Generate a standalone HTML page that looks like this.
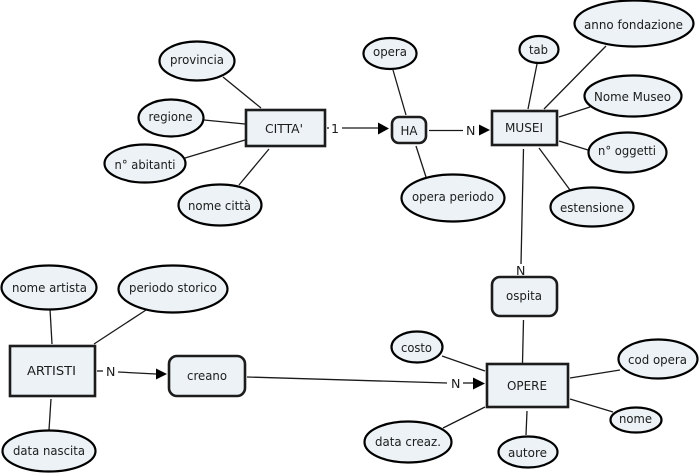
<!DOCTYPE html>
<html><head><meta charset="utf-8"><style>
html,body{margin:0;padding:0;background:#fff;width:700px;height:474px;overflow:hidden}
svg{display:block}
text{font-family:"DejaVu Sans","Liberation Sans",sans-serif;font-size:12.6px;fill:#1c1c1c}
.l line{stroke:#1a1a1a;stroke-width:1.3}
.e ellipse{fill:#ecf2f5;stroke:#000;stroke-width:2.2}
.r rect{fill:#ecf2f5;stroke:#1c1c1c;stroke-width:2.6}
.a polygon{fill:#000}
</style></head><body>
<svg width="700" height="474" viewBox="0 0 700 474" xmlns="http://www.w3.org/2000/svg">
<g class="l">
<line x1="223" y1="77" x2="261" y2="108"/>
<line x1="204" y1="120" x2="245" y2="124"/>
<line x1="185" y1="158" x2="245" y2="140"/>
<line x1="239" y1="185" x2="269" y2="149"/>
<line x1="327" y1="128" x2="329" y2="128"/>
<line x1="342" y1="128" x2="378" y2="128"/>
<line x1="393" y1="70" x2="406" y2="115"/>
<line x1="416" y1="146" x2="426" y2="177"/>
<line x1="429" y1="130.5" x2="463" y2="130.5"/>
<line x1="537" y1="64" x2="528" y2="109"/>
<line x1="606" y1="46" x2="544" y2="109"/>
<line x1="590" y1="107" x2="559" y2="117"/>
<line x1="588" y1="150" x2="559" y2="141"/>
<line x1="570" y1="190" x2="539" y2="148"/>
<line x1="523.5" y1="149" x2="521" y2="264"/>
<line x1="523.5" y1="320" x2="522.5" y2="363"/>
<line x1="442" y1="356" x2="485" y2="371"/>
<line x1="570" y1="378" x2="620" y2="370"/>
<line x1="570" y1="399" x2="613" y2="412"/>
<line x1="527" y1="411" x2="526" y2="435"/>
<line x1="485" y1="407" x2="443" y2="428"/>
<line x1="247" y1="377" x2="447" y2="383"/>
<line x1="463" y1="383" x2="473" y2="383"/>
<line x1="50" y1="309" x2="52" y2="344"/>
<line x1="146" y1="310" x2="94" y2="344"/>
<line x1="51" y1="399" x2="49" y2="430"/>
<line x1="97" y1="371" x2="103" y2="371"/>
<line x1="118" y1="372" x2="156" y2="374"/>
</g>
<g class="a">
<polygon points="378,122.5 389,128.5 378,134.5"/>
<polygon points="479,124.5 490,130 479,135.5"/>
<polygon points="473,377.5 485,383.5 473,389.5"/>
<polygon points="156,368.5 167,374 156,379.5"/>
</g>
<g class="e">
<ellipse cx="197" cy="61" rx="37.5" ry="19.5"/>
<ellipse cx="171" cy="118" rx="32.5" ry="18.5"/>
<ellipse cx="145" cy="163.5" rx="40.5" ry="19"/>
<ellipse cx="220" cy="205" rx="41.5" ry="20.5"/>
<ellipse cx="390" cy="53.5" rx="26.5" ry="15.5"/>
<ellipse cx="539" cy="49.5" rx="19.5" ry="13.5"/>
<ellipse cx="634" cy="23.5" rx="59.5" ry="23"/>
<ellipse cx="633" cy="96" rx="48.5" ry="20.5"/>
<ellipse cx="627.5" cy="152.5" rx="39" ry="20"/>
<ellipse cx="592" cy="207" rx="41.5" ry="19.5"/>
<ellipse cx="453" cy="198" rx="51.5" ry="23.5"/>
<ellipse cx="49" cy="287.5" rx="47.5" ry="22"/>
<ellipse cx="173" cy="289" rx="54.5" ry="23.5"/>
<ellipse cx="49" cy="451" rx="46.5" ry="20.5"/>
<ellipse cx="417" cy="347" rx="25.5" ry="15.5"/>
<ellipse cx="658" cy="359" rx="39.5" ry="19.5"/>
<ellipse cx="636" cy="420" rx="25.5" ry="12.5"/>
<ellipse cx="528" cy="452" rx="29.5" ry="15.5"/>
<ellipse cx="408" cy="442" rx="43.5" ry="20.5"/>
</g>
<g class="r">
<rect x="246" y="110" width="79" height="36"/>
<rect x="392" y="117" width="34" height="26" rx="7"/>
<rect x="492" y="111" width="65" height="34"/>
<rect x="492" y="277" width="65" height="39" rx="8"/>
<rect x="487" y="364" width="81" height="43"/>
<rect x="10" y="346" width="85" height="50"/>
<rect x="169" y="356" width="76" height="40" rx="8"/>
</g>
<text x="170" y="64" textLength="54" lengthAdjust="spacingAndGlyphs">provincia</text>
<text x="148.5" y="121" textLength="44" lengthAdjust="spacingAndGlyphs">regione</text>
<text x="114.5" y="169" textLength="61" lengthAdjust="spacingAndGlyphs">n° abitanti</text>
<text x="188" y="210" textLength="63" lengthAdjust="spacingAndGlyphs">nome città</text>
<text x="265" y="133" textLength="38" lengthAdjust="spacingAndGlyphs">CITTA'</text>
<text x="331" y="133">1</text>
<text x="373" y="56" textLength="34" lengthAdjust="spacingAndGlyphs">opera</text>
<text x="529" y="54" textLength="19" lengthAdjust="spacingAndGlyphs">tab</text>
<text x="584" y="29" textLength="99" lengthAdjust="spacingAndGlyphs">anno fondazione</text>
<text x="594" y="101" textLength="77" lengthAdjust="spacingAndGlyphs">Nome Museo</text>
<text x="598" y="155" textLength="58" lengthAdjust="spacingAndGlyphs">n° oggetti</text>
<text x="560" y="212" textLength="64" lengthAdjust="spacingAndGlyphs">estensione</text>
<text x="412" y="201" textLength="82" lengthAdjust="spacingAndGlyphs">opera periodo</text>
<text x="400.5" y="135" textLength="17" lengthAdjust="spacingAndGlyphs">HA</text>
<text x="466" y="135">N</text>
<text x="505" y="132" textLength="38" lengthAdjust="spacingAndGlyphs">MUSEI</text>
<text x="516" y="275">N</text>
<text x="506" y="300" textLength="36" lengthAdjust="spacingAndGlyphs">ospita</text>
<text x="401" y="352" textLength="31" lengthAdjust="spacingAndGlyphs">costo</text>
<text x="507" y="390" textLength="40" lengthAdjust="spacingAndGlyphs">OPERE</text>
<text x="628" y="364" textLength="59" lengthAdjust="spacingAndGlyphs">cod opera</text>
<text x="619" y="423" textLength="33" lengthAdjust="spacingAndGlyphs">nome</text>
<text x="508" y="457" textLength="39" lengthAdjust="spacingAndGlyphs">autore</text>
<text x="375" y="446" textLength="66" lengthAdjust="spacingAndGlyphs">data creaz.</text>
<text x="451" y="388">N</text>
<text x="12" y="292" textLength="75" lengthAdjust="spacingAndGlyphs">nome artista</text>
<text x="129" y="292" textLength="88" lengthAdjust="spacingAndGlyphs">periodo storico</text>
<text x="13" y="455" textLength="72" lengthAdjust="spacingAndGlyphs">data nascita</text>
<text x="27" y="375" textLength="49" lengthAdjust="spacingAndGlyphs">ARTISTI</text>
<text x="106" y="376">N</text>
<text x="187" y="380" textLength="40" lengthAdjust="spacingAndGlyphs">creano</text>
</svg>
</body></html>
